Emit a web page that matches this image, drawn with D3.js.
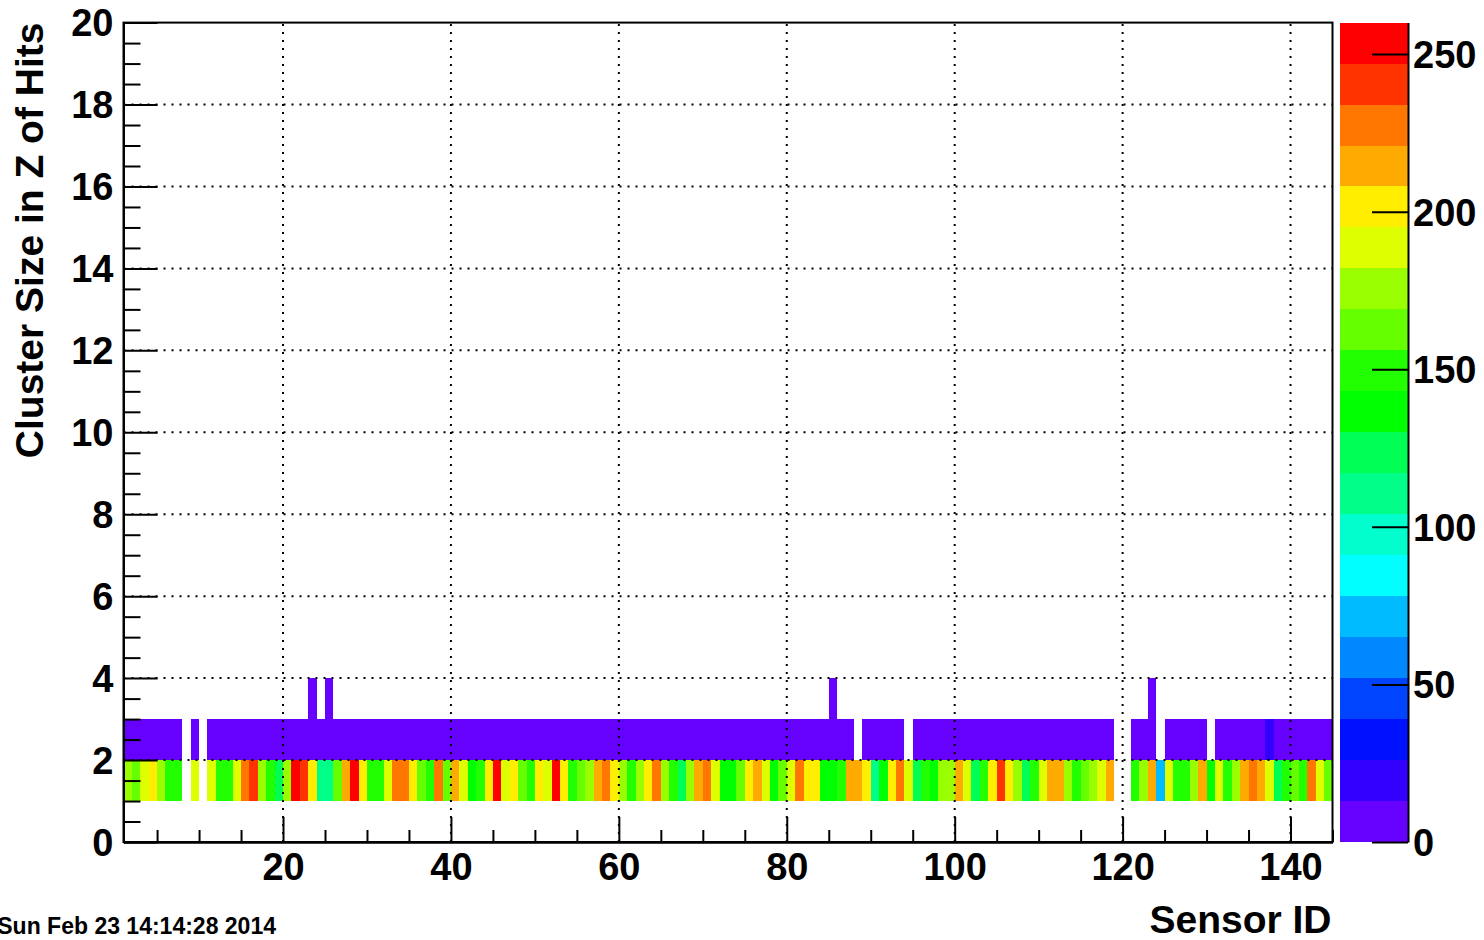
<!DOCTYPE html>
<html>
<head>
<meta charset="utf-8">
<script src="https://cdn.jsdelivr.net/npm/d3@7"></script>
<style>
  body { margin: 0; background: #fff; }
  svg { display: block; }
  text { font-family: "Liberation Sans", Arial, Helvetica, sans-serif; font-weight: bold; fill: #000; }
</style>
</head>
<body>
<svg id="chart" width="1484" height="940"></svg>
<script>
// ---------------- DATA ----------------
// Sensor IDs (x bins, lower edge), 1..144
const sensorIds = d3.range(1, 145);
// Cluster sizes in Z (y bins, lower edge)
const clusterSizes = [1, 2, 3];

// Entries per sensor for cluster size 1
const countsSize1 = [
  175,162,188,201,175,149,149,0,188,0,
  188,149,149,188,227,240,175,149,123,175,
  253,240,201,110,110,162,214,255,201,149,
  149,188,227,227,201,162,149,227,162,214,
  188,136,149,201,260,188,201,162,149,201,
  188,252,201,149,162,175,214,227,201,175,
  149,175,201,227,175,149,123,175,214,227,
  188,136,136,162,201,214,188,136,162,188,
  227,201,201,136,136,149,214,214,201,110,
  136,201,227,188,123,149,136,175,175,214,
  188,123,149,201,240,201,175,123,149,188,
  214,214,175,149,162,175,188,214,0,0,
  149,175,214,71,188,149,149,175,214,136,
  188,149,175,214,227,214,188,123,149,162,
  149,227,188,162
];

// Entries per sensor for cluster size 2
const countsSize2 = [
  5,5,5,5,5,5,5,0,5,0,
  5,5,5,5,5,5,5,5,5,5,
  5,5,5,5,5,5,5,5,5,5,
  5,5,5,5,5,5,5,5,5,5,
  5,5,5,5,5,5,5,5,5,5,
  5,5,5,5,5,5,5,5,5,5,
  5,5,5,5,5,5,5,5,5,5,
  5,5,5,5,5,5,5,5,5,5,
  5,5,5,5,5,5,5,0,5,5,
  5,5,5,0,5,5,5,5,5,5,
  5,5,5,5,5,5,5,5,5,5,
  5,5,5,5,5,5,5,5,0,0,
  5,5,5,0,5,5,5,5,5,0,
  5,5,5,5,5,5,19,5,5,5,
  5,5,5,5
];

// Entries per sensor for cluster size 3
const countsSize3 = [
  0,0,0,0,0,0,0,0,0,0,
  0,0,0,0,0,0,0,0,0,0,
  0,0,1,0,1,0,0,0,0,0,
  0,0,0,0,0,0,0,0,0,0,
  0,0,0,0,0,0,0,0,0,0,
  0,0,0,0,0,0,0,0,0,0,
  0,0,0,0,0,0,0,0,0,0,
  0,0,0,0,0,0,0,0,0,0,
  0,0,0,0,1,0,0,0,0,0,
  0,0,0,0,0,0,0,0,0,0,
  0,0,0,0,0,0,0,0,0,0,
  0,0,0,0,0,0,0,0,0,0,
  0,0,1,0,0,0,0,0,0,0,
  0,0,0,0,0,0,0,0,0,0,
  0,0,0,0
];

const xTickValues = [20, 40, 60, 80, 100, 120, 140];
const yTickValues = [0, 2, 4, 6, 8, 10, 12, 14, 16, 18, 20];
const zTickValues = [0, 50, 100, 150, 200, 250];
const xDomain = [1, 145];
const yDomain = [0, 20];
const zDomain = [0, 260];
const paletteColors = [
  "#6600ff", "#3300ff", "#0011ff", "#0044ff", "#0088ff",
  "#00bbff", "#00ffff", "#00ffcc", "#00ff88", "#00ff55",
  "#00ff00", "#22ff00", "#66ff00", "#99ff00", "#ddff00",
  "#ffee00", "#ffaa00", "#ff7700", "#ff3300", "#ff0000"
];
const xTitle = "Sensor ID";
const yTitle = "Cluster Size in Z of Hits";
const dateStamp = "Sun Feb 23 14:14:28 2014";

// ---------------- LAYOUT ----------------
const plot = { left: 123.5, right: 1332.5, top: 22.6, bottom: 842 };
const cbar = { left: 1340, right: 1408 };
const tickFont = 38;
const titleFont = 39;

const svg = d3.select("#chart");

const x = d3.scaleLinear().domain(xDomain).range([plot.left, plot.right]);
const y = d3.scaleLinear().domain(yDomain).range([plot.bottom, plot.top]);
const z = d3.scaleLinear().domain(zDomain).range([plot.bottom, plot.top]);
const color = d3.scaleQuantize().domain(zDomain).range(paletteColors);

// Build cell table from the arrays
const rows = [countsSize1, countsSize2, countsSize3];
const cells = [];
clusterSizes.forEach((cs, r) => {
  sensorIds.forEach((sid, i) => {
    const v = rows[r][i];
    if (v > 0) cells.push({ sid, cs, v });
  });
});

// Cells
svg.append("g")
  .attr("shape-rendering", "crispEdges")
  .selectAll("rect")
  .data(cells)
  .join("rect")
  .attr("x", d => x(d.sid))
  .attr("y", d => y(d.cs + 1))
  .attr("width", d => x(d.sid + 1) - x(d.sid))
  .attr("height", d => y(d.cs) - y(d.cs + 1))
  .attr("fill", d => color(d.v));

// Grid (dotted)
const grid = svg.append("g")
  .attr("stroke", "#000")
  .attr("stroke-width", 2)
  .attr("stroke-dasharray", "2,6")
  .attr("fill", "none");
grid.selectAll("line.gx")
  .data(xTickValues)
  .join("line")
  .attr("class", "gx")
  .attr("x1", d => x(d)).attr("x2", d => x(d))
  .attr("y1", plot.bottom).attr("y2", plot.top);
grid.selectAll("line.gy")
  .data(yTickValues.filter(v => v > yDomain[0] && v < yDomain[1]))
  .join("line")
  .attr("class", "gy")
  .attr("y1", d => y(d)).attr("y2", d => y(d))
  .attr("x1", plot.left).attr("x2", plot.right);

function styleAxis(g, fontSize) {
  g.selectAll("path.domain").attr("stroke", "#000").attr("stroke-width", 2);
  g.selectAll(".tick line").attr("stroke", "#000").attr("stroke-width", 2);
  g.selectAll(".tick text")
    .attr("fill", "#000")
    .style("font-family", '"Liberation Sans", Arial, Helvetica, sans-serif')
    .style("font-weight", "bold")
    .style("font-size", fontSize + "px");
}

// X axis minor ticks
const xMinor = d3.range(5, 146, 5).filter(v => !xTickValues.includes(v));
svg.append("g")
  .attr("transform", `translate(0,${plot.bottom})`)
  .call(d3.axisBottom(x).tickValues(xMinor).tickSize(-12).tickSizeOuter(0).tickFormat(""))
  .call(g => styleAxis(g, tickFont));
// X axis major
svg.append("g")
  .attr("transform", `translate(0,${plot.bottom})`)
  .call(d3.axisBottom(x).tickValues(xTickValues).tickSize(-25).tickSizeOuter(0).tickPadding(11))
  .call(g => styleAxis(g, tickFont));

// Y axis minor ticks
const yMinor = d3.range(0.5, 20, 0.5).filter(v => !yTickValues.includes(v));
svg.append("g")
  .attr("transform", `translate(${plot.left},0)`)
  .call(d3.axisLeft(y).tickValues(yMinor).tickSize(-17).tickSizeOuter(0).tickFormat(""))
  .call(g => styleAxis(g, tickFont));
// Y axis major
svg.append("g")
  .attr("transform", `translate(${plot.left},0)`)
  .call(d3.axisLeft(y).tickValues(yTickValues).tickSize(-34).tickSizeOuter(0).tickPadding(10))
  .call(g => styleAxis(g, tickFont))
  .call(g => g.selectAll(".tick text").attr("dy", "0.35em"));

// Frame
svg.append("rect")
  .attr("x", plot.left).attr("y", plot.top)
  .attr("width", plot.right - plot.left)
  .attr("height", plot.bottom - plot.top)
  .attr("fill", "none").attr("stroke", "#000").attr("stroke-width", 2);

// Colour bar
const bandStep = (zDomain[1] - zDomain[0]) / paletteColors.length;
svg.append("g")
  .attr("shape-rendering", "crispEdges")
  .selectAll("rect")
  .data(paletteColors)
  .join("rect")
  .attr("x", cbar.left)
  .attr("width", cbar.right - cbar.left)
  .attr("y", (d, i) => z(zDomain[0] + (i + 1) * bandStep))
  .attr("height", (d, i) => z(zDomain[0] + i * bandStep) - z(zDomain[0] + (i + 1) * bandStep))
  .attr("fill", d => d);

svg.append("g")
  .attr("transform", `translate(${cbar.right},0)`)
  .call(d3.axisRight(z).tickValues(zTickValues).tickSize(-36).tickSizeOuter(0).tickPadding(5))
  .call(g => styleAxis(g, tickFont))
  .call(g => g.selectAll(".tick text").attr("dy", "0.35em"));

// Titles
svg.append("text")
  .attr("x", plot.right - 1)
  .attr("y", 933)
  .attr("text-anchor", "end")
  .style("font-size", titleFont + "px")
  .text(xTitle);

svg.append("text")
  .attr("transform", `translate(43,${plot.top}) rotate(-90)`)
  .attr("text-anchor", "end")
  .style("font-size", titleFont + "px")
  .text(yTitle);

// Date stamp
svg.append("text")
  .attr("x", 276)
  .attr("y", 934)
  .attr("text-anchor", "end")
  .style("font-size", "23px")
  .text(dateStamp);
</script>
</body>
</html>
